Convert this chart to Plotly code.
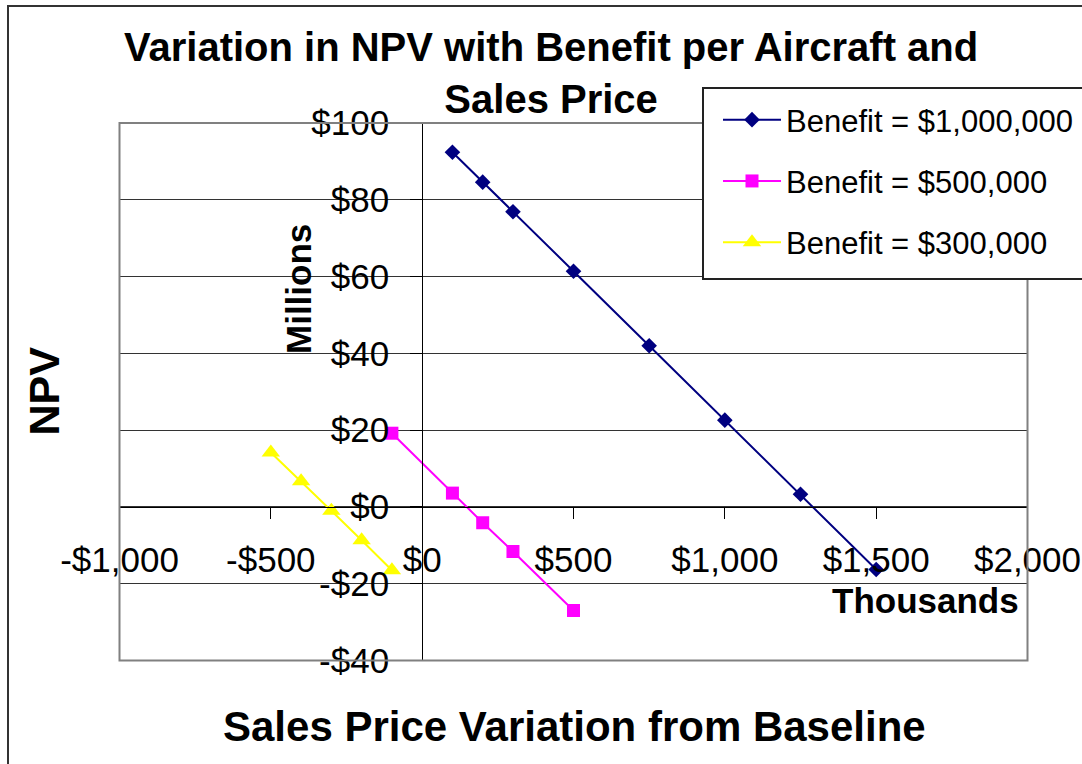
import plotly.graph_objects as go

# Sales price variation from baseline (thousands of dollars)
price_1m = [100, 200, 300, 500, 750, 1000, 1250, 1500]
price_500k = [-100, 100, 200, 300, 500]
price_300k = [-500, -400, -300, -200, -100]

# NPV (millions of dollars)
npv_1m = [92.4, 84.6, 76.9, 61.4, 42.0, 22.6, 3.3, -16.3]
npv_500k = [19.2, 3.6, -4.1, -11.6, -27.0]
npv_300k = [14.2, 6.7, -1.0, -8.7, -16.5]

series_names = ["Benefit = $1,000,000", "Benefit = $500,000", "Benefit = $300,000"]

x_tickvals = [-1000, -500, 0, 500, 1000, 1500, 2000]
x_ticktext = ["-$1,000", "-$500", "$0", "$500", "$1,000", "$1,500", "$2,000"]
y_tickvals = [100, 80, 60, 40, 20, 0, -20, -40]
y_ticktext = ["$100", "$80", "$60", "$40", "$20", "$0", "-$20", "-$40"]

FONT = "Liberation Sans, Arial, sans-serif"
W, H = 1082, 764

fig = go.Figure()
fig.add_trace(go.Scatter(
    x=price_1m, y=npv_1m, name=series_names[0], mode="lines+markers",
    line=dict(color="#000080", width=2),
    marker=dict(symbol="diamond", size=12, color="#000080"),
    legendgroup="a",
))
fig.add_trace(go.Scatter(
    x=price_500k, y=npv_500k, name=series_names[1], mode="lines+markers",
    line=dict(color="#FF00FF", width=2),
    marker=dict(symbol="square", size=13, color="#FF00FF"),
    legendgroup="b",
))
fig.add_trace(go.Scatter(
    x=price_300k, y=npv_300k, name=series_names[2], mode="lines+markers",
    line=dict(color="#FFFF00", width=2),
    marker=dict(symbol="triangle-up", size=16, color="#FFFF00"),
    legendgroup="c",
))

px_l, px_r, px_t, px_b = 119.5, 1027.5, 123, 660.5
x_dom = [px_l / W, px_r / W]
y_dom = [1 - px_b / H, 1 - px_t / H]
x_range = [-1000, 2000]
y_range = [-40, 100]

# pixel positions of the zero crossings, so the axes cross at (0, 0)
x0_px = px_l + (0 - x_range[0]) / (x_range[1] - x_range[0]) * (px_r - px_l)
y0_px = px_b - (0 - y_range[0]) / (y_range[1] - y_range[0]) * (px_b - px_t)

fig.update_layout(
    width=W, height=H,
    margin=dict(l=0, r=0, t=0, b=0, autoexpand=False),
    paper_bgcolor="white", plot_bgcolor="white",
    font=dict(family=FONT, color="black"),
    showlegend=True,
    legend=dict(
        x=718 / W, y=1 - 93 / H, xanchor="left", yanchor="top",
        bgcolor="rgba(0,0,0,0)", borderwidth=0,
        font=dict(size=31, family=FONT, color="black"),
        traceorder="grouped", tracegroupgap=18,
        itemwidth=58,
    ),
    xaxis=dict(
        domain=x_dom, range=x_range, anchor="free", position=1 - y0_px / H,
        tickvals=x_tickvals, ticktext=x_ticktext,
        ticks="outside", ticklen=11, tickcolor="black", tickwidth=1,
        showline=True, linecolor="black", linewidth=1,
        showgrid=False, zeroline=False,
        tickfont=dict(size=35, family=FONT, color="black"),
        ticklabelstandoff=11,
    ),
    yaxis=dict(
        domain=y_dom, range=y_range, anchor="free", position=x0_px / W,
        tickvals=y_tickvals, ticktext=y_ticktext,
        ticks="outside", ticklen=12, tickcolor="black", tickwidth=1,
        showline=True, linecolor="black", linewidth=1,
        showgrid=True, gridcolor="#333333", gridwidth=1, zeroline=False,
        tickfont=dict(size=35, family=FONT, color="black"),
        ticklabelstandoff=14,
    ),
)

shapes = [
    # plot area frame
    dict(type="rect", xref="x domain", yref="y domain", x0=0, x1=1, y0=0, y1=1,
         line=dict(color="#808080", width=2), layer="above"),
    # chart area frame
    dict(type="rect", xref="paper", yref="paper", x0=8 / W, x1=1.2, y0=-0.2, y1=1 - 6 / H,
         line=dict(color="#333333", width=2), layer="below"),
    # legend box
    dict(type="rect", xref="paper", yref="paper", x0=703 / W, x1=1.05,
         y0=1 - 279 / H, y1=1 - 88 / H,
         line=dict(color="#222222", width=2), fillcolor="white", layer="above"),
]
fig.update_layout(shapes=shapes)

annotations = [
    dict(text="<b>Variation in NPV with Benefit per Aircraft and<br>Sales Price</b>",
         x=551 / W, y=1 - 73.5 / H, xref="paper", yref="paper",
         xanchor="center", yanchor="middle", showarrow=False,
         font=dict(size=40, family=FONT, color="black")),
    dict(text="<b>Sales Price Variation from Baseline</b>",
         x=574 / W, y=1 - 726 / H, xref="paper", yref="paper",
         xanchor="center", yanchor="middle", showarrow=False,
         font=dict(size=42, family=FONT, color="black")),
    dict(text="<b>NPV</b>", textangle=-90,
         x=43.5 / W, y=1 - 391 / H, xref="paper", yref="paper",
         xanchor="center", yanchor="middle", showarrow=False,
         font=dict(size=43, family=FONT, color="black")),
    dict(text="<b>Millions</b>", textangle=-90,
         x=298 / W, y=1 - 289 / H, xref="paper", yref="paper",
         xanchor="center", yanchor="middle", showarrow=False,
         font=dict(size=35, family=FONT, color="black")),
    dict(text="<b>Thousands</b>",
         x=925 / W, y=1 - 600 / H, xref="paper", yref="paper",
         xanchor="center", yanchor="middle", showarrow=False,
         font=dict(size=35, family=FONT, color="black")),
]
fig.update_layout(annotations=annotations)

fig.write_html("out.html")
